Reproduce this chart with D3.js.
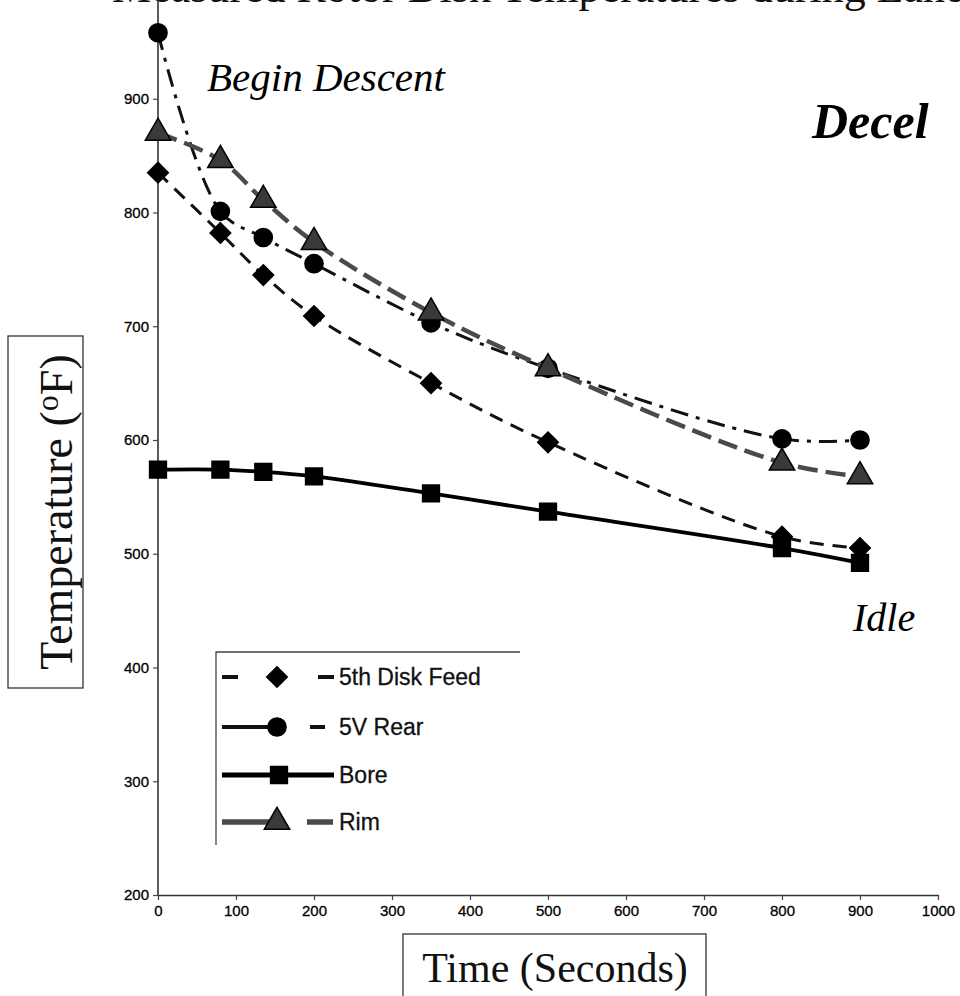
<!DOCTYPE html>
<html>
<head>
<meta charset="utf-8">
<script src="https://cdn.jsdelivr.net/npm/d3@7"></script>
<style>
  html, body { margin: 0; padding: 0; background: #fff; }
  svg { display: block; }
</style>
</head>
<body>
<script>
// values (seconds, deg F)
const times = [0, 80, 135, 200, 350, 500, 800, 900];
const diskFeed = [835, 782, 745, 709, 650, 598, 515, 505];
const rearV5 = [958, 801, 778, 755, 703, 663, 601, 600];
const bore = [574, 574, 572, 568, 553, 537, 505, 492];
const rim = [870, 846, 811, 774, 712, 663, 580, 568];

const seriesNames = ["5th Disk Feed", "5V Rear", "Bore", "Rim"];
const xTicks = [0, 100, 200, 300, 400, 500, 600, 700, 800, 900, 1000];
const yTicks = [200, 300, 400, 500, 600, 700, 800, 900];

const W = 960, H = 996;
const serif = "'Liberation Serif', 'Times New Roman', serif";
const sans = "'Liberation Sans', Arial, sans-serif";

const svg = d3.select("body").append("svg").attr("width", W).attr("height", H);

const x = d3.scaleLinear().domain([0, 1000]).range([158, 938]);
const y = d3.scaleLinear().domain([200, 1000]).range([895, -15]);

// cut-off title at the very top of the scan
svg.append("text")
  .attr("x", 112).attr("y", 2)
  .attr("font-family", serif).attr("font-size", 44).attr("fill", "#111")
  .text("Measured Rotor Disk Temperatures during Landing Descent Approach");

// axes
const yAxis = svg.append("g").attr("transform", `translate(${x(0)},0)`)
  .call(d3.axisLeft(y).tickValues(yTicks).tickSize(5).tickSizeOuter(0).tickPadding(4).tickFormat(d3.format("d")));
const xAxis = svg.append("g").attr("transform", `translate(0,${y(200)})`)
  .call(d3.axisBottom(x).tickValues(xTicks).tickSize(5).tickSizeOuter(0).tickPadding(5).tickFormat(d3.format("d")));
[yAxis, xAxis].forEach(a => {
  a.select(".domain").attr("stroke", "#333").attr("stroke-width", 1.6);
  a.selectAll(".tick line").attr("stroke", "#444").attr("stroke-width", 1.2);
  a.selectAll("text").attr("font-family", sans).attr("font-size", 15).attr("fill", "#000")
    .attr("stroke", "#000").attr("stroke-width", 0.3);
});
yAxis.select(".domain").attr("d", `M0,${y(200)}V0`);

const line = d3.line()
  .x(d => x(d[0])).y(d => y(d[1]))
  .curve(d3.curveCatmullRom.alpha(0.5));

const series = [
  { name: seriesNames[0], values: diskFeed, stroke: "#111", width: 3, dash: "14 9", marker: "diamond", legendDash: "16 80 16" },
  { name: seriesNames[1], values: rearV5, stroke: "#111", width: 3, dash: "18 8 4 8", marker: "circle", legendDash: "55 33 15" },
  { name: seriesNames[2], values: bore, stroke: "#000", width: 3.8, dash: null, marker: "square", legendDash: null },
  { name: seriesNames[3], values: rim, stroke: "#4a4a4a", width: 4.5, dash: "20 8", marker: "triangle", legendDash: "55 30 26" }
];

const symbolOf = {
  diamond: d3.symbol().type(d3.symbolDiamond2).size(270),
  circle: d3.symbol().type(d3.symbolCircle).size(260),
  square: d3.symbol().type(d3.symbolSquare2).size(360),
  triangle: d3.symbol().type(d3.symbolTriangle).size(280)
};

function drawMarker(g, s, cx, cy) {
  g.append("path")
    .attr("d", symbolOf[s.marker]())
    .attr("transform", `translate(${cx},${cy})`)
    .attr("fill", s.marker === "triangle" ? "#3a3a3a" : "#000")
    .attr("stroke", "#000").attr("stroke-width", 1.5);
}

series.forEach(s => {
  const pts = times.map((t, i) => [t, s.values[i]]);
  svg.append("path")
    .attr("d", line(pts))
    .attr("fill", "none")
    .attr("stroke", s.stroke)
    .attr("stroke-width", s.width)
    .attr("stroke-dasharray", s.dash);
  const mg = svg.append("g");
  pts.forEach(p => drawMarker(mg, s, x(p[0]), y(p[1])));
});

// legend
const lg = svg.append("g");
lg.append("path").attr("d", "M216,845V652H520").attr("fill", "none").attr("stroke", "#444").attr("stroke-width", 1.3);
const rowY = [677, 727, 775, 822];
series.forEach((s, i) => {
  lg.append("line")
    .attr("x1", 222).attr("x2", 334).attr("y1", rowY[i]).attr("y2", rowY[i])
    .attr("stroke", s.stroke).attr("stroke-width", s.width + 1)
    .attr("stroke-dasharray", s.legendDash);
  drawMarker(lg, s, s.marker === "square" ? 279 : 277, rowY[i]);
  lg.append("text")
    .attr("x", 339).attr("y", rowY[i] + 8)
    .attr("font-family", sans).attr("font-size", 23).attr("fill", "#111")
    .attr("stroke", "#111").attr("stroke-width", 0.3)
    .text(s.name);
});

// annotations
svg.append("text").attr("x", 207).attr("y", 91)
  .attr("font-family", serif).attr("font-style", "italic").attr("font-size", 41)
  .text("Begin Descent");
svg.append("text").attr("x", 812).attr("y", 138)
  .attr("font-family", serif).attr("font-style", "italic").attr("font-weight", "bold").attr("font-size", 50)
  .text("Decel");
svg.append("text").attr("x", 853).attr("y", 631)
  .attr("font-family", serif).attr("font-style", "italic").attr("font-size", 40)
  .text("Idle");

// boxed axis titles
const yt = svg.append("g");
yt.append("rect").attr("x", 8).attr("y", 336).attr("width", 75).attr("height", 352)
  .attr("fill", "none").attr("stroke", "#333").attr("stroke-width", 1.3);
yt.append("text")
  .attr("transform", "translate(72,512) rotate(-90)")
  .attr("text-anchor", "middle")
  .attr("font-family", serif).attr("font-size", 46).attr("fill", "#111")
  .call(t => {
    t.append("tspan").text("Temperature (");
    t.append("tspan").attr("font-size", 32).attr("dy", -14).text("o");
    t.append("tspan").attr("dy", 14).text("F)");
  });

const xt = svg.append("g");
xt.append("rect").attr("x", 403).attr("y", 934).attr("width", 303).attr("height", 80)
  .attr("fill", "none").attr("stroke", "#333").attr("stroke-width", 1.3);
xt.append("text").attr("x", 555).attr("y", 982).attr("text-anchor", "middle")
  .attr("font-family", serif).attr("font-size", 42).attr("fill", "#111")
  .text("Time (Seconds)");
</script>
</body>
</html>
